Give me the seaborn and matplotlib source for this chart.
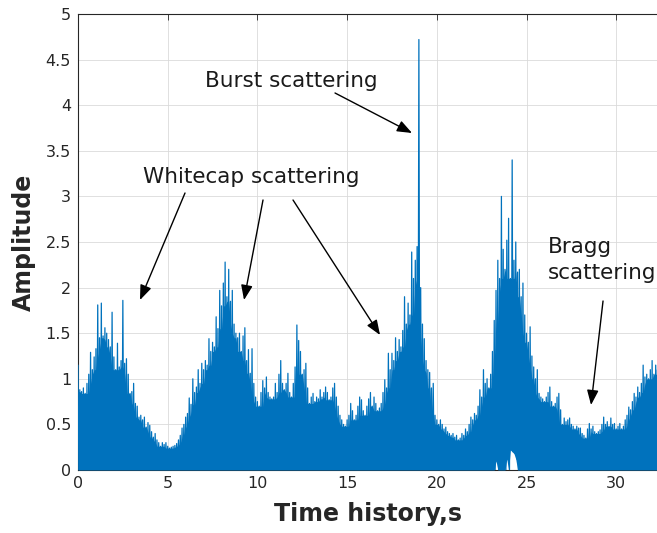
import numpy as np
import pandas as pd
import matplotlib
matplotlib.use("Agg")
import matplotlib.pyplot as plt
import seaborn as sns

t_start = 0.0
t_step = 0.1
peak = [
    1.15, 0.88, 0.86, 0.90, 0.84, 0.95, 1.05, 1.29, 1.10, 1.24,   # 0 s
    1.33, 1.81, 1.45, 1.83, 1.47, 1.56, 1.50, 1.43, 1.35, 1.73,   # 1 s
    1.24, 1.10, 1.39, 1.13, 1.20, 1.86, 1.17, 1.22, 1.05, 0.84,   # 2 s
    0.86, 0.95, 0.73, 0.70, 0.58, 0.60, 0.55, 0.58, 0.47, 0.52,   # 3 s
    0.49, 0.42, 0.36, 0.40, 0.33, 0.30, 0.26, 0.30, 0.28, 0.30,   # 4 s
    0.26, 0.24, 0.25, 0.26, 0.27, 0.29, 0.33, 0.38, 0.46, 0.50,   # 5 s
    0.58, 0.62, 0.79, 0.72, 1.00, 0.85, 0.91, 1.10, 0.95, 1.17,   # 6 s
    1.10, 1.20, 1.15, 1.44, 1.30, 1.40, 1.35, 1.68, 1.55, 1.97,   # 7 s
    1.80, 2.05, 2.28, 1.90, 2.20, 1.85, 1.97, 1.60, 1.50, 1.45,   # 8 s
    1.50, 1.30, 1.47, 1.56, 1.20, 1.32, 1.06, 1.33, 0.95, 0.80,   # 9 s
    0.75, 0.70, 0.85, 0.98, 0.90, 1.02, 0.85, 0.80, 0.78, 0.80,   # 10 s
    0.95, 0.85, 1.05, 1.20, 0.95, 0.88, 0.95, 1.06, 0.85, 0.80,   # 11 s
    0.95, 1.13, 1.59, 1.42, 1.30, 1.05, 1.10, 1.17, 0.90, 0.73,   # 12 s
    0.80, 0.84, 0.75, 0.80, 0.78, 0.88, 0.80, 0.85, 0.91, 0.85,   # 13 s
    0.77, 0.80, 0.90, 0.95, 0.80, 0.70, 0.60, 0.55, 0.50, 0.48,   # 14 s
    0.55, 0.60, 0.73, 0.65, 0.55, 0.60, 0.70, 0.80, 0.77, 0.65,   # 15 s
    0.60, 0.70, 0.78, 0.85, 0.70, 0.80, 0.73, 0.65, 0.68, 0.73,   # 16 s
    0.85, 0.99, 0.90, 1.28, 1.10, 1.28, 1.20, 1.45, 1.30, 1.43,   # 17 s
    1.35, 1.53, 1.90, 1.60, 1.83, 1.70, 2.39, 2.10, 2.30, 2.45,   # 18 s
    4.72, 2.00, 1.60, 1.44, 1.20, 1.10, 1.07, 0.90, 0.95, 0.60,   # 19 s
    0.55, 0.50, 0.55, 0.50, 0.45, 0.47, 0.42, 0.40, 0.38, 0.40,   # 20 s
    0.36, 0.38, 0.33, 0.35, 0.40, 0.38, 0.45, 0.42, 0.50, 0.58,   # 21 s
    0.55, 0.62, 0.60, 0.70, 0.88, 0.80, 1.10, 0.95, 1.00, 0.90,   # 22 s
    1.05, 1.30, 1.64, 1.97, 2.30, 2.10, 3.00, 2.42, 2.20, 2.52,   # 23 s
    2.76, 2.10, 3.40, 2.30, 2.50, 2.17, 2.20, 1.90, 2.05, 1.70,   # 24 s
    1.50, 1.40, 1.57, 1.25, 1.13, 1.00, 1.10, 0.84, 0.80, 0.78,   # 25 s
    0.75, 0.80, 0.85, 0.91, 0.75, 0.70, 0.73, 0.80, 0.84, 0.66,   # 26 s
    0.50, 0.57, 0.53, 0.55, 0.57, 0.50, 0.48, 0.45, 0.48, 0.46,   # 27 s
    0.46, 0.40, 0.38, 0.35, 0.45, 0.51, 0.45, 0.48, 0.42, 0.40,   # 28 s
    0.42, 0.44, 0.50, 0.58, 0.50, 0.53, 0.48, 0.57, 0.50, 0.51,   # 29 s
    0.45, 0.48, 0.51, 0.45, 0.48, 0.55, 0.60, 0.69, 0.66, 0.75,   # 30 s
    0.84, 0.80, 0.91, 0.85, 0.95, 1.15, 1.02, 1.05, 1.00, 1.10,   # 31 s
    1.20, 1.05, 1.15, 1.10,                                       # 32 s
]
# troughs that stay above zero (time, lower value); elsewhere the signal reaches 0
floor_times = [23.3, 23.9, 24.1, 24.2, 24.3, 24.4]
floor_values = [0.10, 0.12, 0.22, 0.20, 0.18, 0.12]

x_ticks = [0, 5, 10, 15, 20, 25, 30]
y_ticks = [0, 0.5, 1, 1.5, 2, 2.5, 3, 3.5, 4, 4.5, 5]
x_label = "Time history,s"
y_label = "Amplitude"

# ---- tables for the signal
times = [round(t_start + i * t_step, 2) for i in range(len(peak))]
floor_map = dict(zip(floor_times, floor_values))
lower = [floor_map.get(t, 0.0) for t in times]
df = pd.DataFrame({"t": times, "amp": peak, "low": lower})
# dense body: the part every neighbouring oscillation reaches
df["body"] = df["amp"].rolling(5, center=True, min_periods=1).min()

# zig-zag trace: each peak followed by its trough half a step later
zx, zy = [], []
for t, p, lo in zip(df["t"], df["amp"], df["low"]):
    zx += [t, t + t_step / 2]
    zy += [p, lo]
zig = pd.DataFrame({"t": zx, "amp": zy})

sns.set_style("white")
plt.rcParams["font.family"] = ["DejaVu Sans"]

W, H = 657, 533
fig = plt.figure(figsize=(W / 100, H / 100), dpi=100)
ax = fig.add_axes([78 / W, 63 / H, 579.5 / W, 456 / H])

blue = "#0072BD"
ax.fill_between(df["t"], df["low"], df["body"], color=blue, linewidth=0, zorder=3)
sns.lineplot(data=zig, x="t", y="amp", sort=False, estimator=None,
             color=blue, linewidth=0.9, ax=ax, zorder=4)

ax.set_xlim(0, 32.3)
ax.set_ylim(0, 5)
ax.set_xticks(x_ticks)
ax.set_yticks(y_ticks)
ax.set_xticklabels([f"{v:g}" for v in x_ticks])
ax.set_yticklabels([f"{v:g}" for v in y_ticks])
ax.grid(True, color="#DADADA", linewidth=0.6, zorder=0)
ax.set_axisbelow(True)

for side in ["left", "bottom", "top"]:
    ax.spines[side].set_visible(True)
    ax.spines[side].set_color("#262626")
    ax.spines[side].set_linewidth(0.8)
ax.spines["right"].set_visible(False)

ax.tick_params(axis="both", direction="in", length=4, width=0.6,
               colors="#262626", labelsize=11.5, top=True)
ax.tick_params(axis="x", pad=4)
ax.tick_params(axis="y", pad=5)

ax.set_xlabel(x_label, fontsize=17, fontweight="bold", color="#262626", labelpad=8)
ax.set_ylabel(y_label, fontsize=17, fontweight="bold", color="#262626", labelpad=7)


def px2d(px, py):
    return ((px - 78) / 17.94, (470 - py) / 91.2)


txt_kw = dict(fontsize=15.5, color="#1a1a1a", ha="left", va="baseline", zorder=5)
ax.text(*px2d(205, 87), "Burst scattering", **txt_kw)
ax.text(*px2d(143, 183), "Whitecap scattering", **txt_kw)
ax.text(*px2d(548, 253), "Bragg", **txt_kw)
ax.text(*px2d(548, 279), "scattering", **txt_kw)

arrows = [
    ((335, 93), (412, 133)),
    ((185, 193), (140, 300)),
    ((263, 200), (244, 300)),
    ((293, 200), (380, 335)),
    ((603, 301), (591, 405)),
]
for tail, head in arrows:
    ax.annotate("", xy=px2d(*head), xytext=px2d(*tail),
                arrowprops=dict(arrowstyle="-|>,head_length=0.9,head_width=0.35",
                                color="black", lw=1.0, shrinkA=0, shrinkB=0),
                zorder=6)

fig.savefig("out.png", dpi=100)
